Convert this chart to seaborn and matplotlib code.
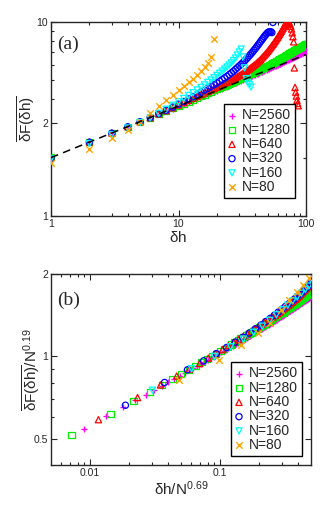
import numpy as np
import pandas as pd
import seaborn as sns
import matplotlib
matplotlib.use("Agg")
import matplotlib.pyplot as plt
from matplotlib.ticker import FixedLocator, FixedFormatter, NullFormatter

# system sizes, styles
sizes = [2560, 1280, 640, 320, 160, 80]
labels = ["N=2560", "N=1280", "N=640", "N=320", "N=160", "N=80"]
colors = ["#ff00ff", "#00ee00", "#ff0000", "#0000ff", "#00ffff", "#ffa500"]
markers = ["+", "s", "^", "o", "v", "x"]

# scaling exponents used in panel (b)
x_exp = 0.69
y_exp = 0.19

# dashed guide line (panel a)
dash_x = [1, 100]
dash_y = [2.0, 6.8]

# dF(dh), dh = 1, 2, 3, ...
dF_2560 = [2.00, 2.41, 2.68, 2.89, 3.06, 3.21, 3.35, 3.47, 3.58, 3.68,
           3.77, 3.86, 3.95, 4.03, 4.10, 4.17, 4.24, 4.31, 4.37, 4.43,
           4.49, 4.54, 4.60, 4.65, 4.70, 4.75, 4.80, 4.85, 4.89, 4.94,
           4.98, 5.03, 5.07, 5.11, 5.15, 5.19, 5.23, 5.27, 5.31, 5.35,
           5.39, 5.42, 5.46, 5.50, 5.53, 5.57, 5.60, 5.64, 5.67, 5.70,
           5.74, 5.77, 5.80, 5.83, 5.87, 5.90, 5.93, 5.96, 5.99, 6.02,
           6.05, 6.08, 6.11, 6.14, 6.17, 6.20, 6.23, 6.26, 6.28, 6.31,
           6.34, 6.37, 6.39, 6.42, 6.45, 6.48, 6.50, 6.53, 6.55, 6.58,
           6.61, 6.63, 6.66, 6.68, 6.71, 6.73, 6.76, 6.78, 6.81, 6.83,
           6.86, 6.88, 6.90, 6.93, 6.95, 6.98, 7.00, 7.02, 7.05, 7.07,
           7.09, 7.12, 7.14, 7.16, 7.18, 7.21, 7.23, 7.25, 7.27, 7.29, 7.31]
dF_1280 = [2.01, 2.40, 2.67, 2.88, 3.06, 3.21, 3.35, 3.47, 3.59, 3.70,
           3.80, 3.89, 3.98, 4.06, 4.14, 4.22, 4.30, 4.38, 4.45, 4.52,
           4.58, 4.64, 4.70, 4.76, 4.82, 4.87, 4.92, 4.97, 5.03, 5.08,
           5.13, 5.18, 5.23, 5.27, 5.32, 5.37, 5.41, 5.46, 5.50, 5.55,
           5.59, 5.63, 5.67, 5.71, 5.75, 5.79, 5.83, 5.87, 5.91, 5.95,
           5.99, 6.03, 6.07, 6.11, 6.15, 6.19, 6.23, 6.27, 6.31, 6.35,
           6.39, 6.43, 6.47, 6.51, 6.55, 6.59, 6.63, 6.67, 6.71, 6.75,
           6.79, 6.82, 6.86, 6.89, 6.93, 6.96, 7.00, 7.03, 7.07, 7.10,
           7.13, 7.16, 7.19, 7.22, 7.25, 7.28, 7.31, 7.34, 7.37, 7.40,
           7.43, 7.46, 7.49, 7.52, 7.55, 7.58, 7.61, 7.64, 7.67, 7.70]
dF_640 = [2.00, 2.41, 2.68, 2.89, 3.06, 3.21, 3.36, 3.49, 3.61, 3.73,
          3.84, 3.94, 4.04, 4.13, 4.22, 4.30, 4.38, 4.46, 4.54, 4.61,
          4.68, 4.75, 4.82, 4.89, 4.96, 5.03, 5.10, 5.17, 5.24, 5.31,
          5.38, 5.45, 5.52, 5.59, 5.66, 5.74, 5.82, 5.90, 5.98, 6.06,
          6.14, 6.23, 6.32, 6.42, 6.52, 6.62, 6.73, 6.84, 6.95, 7.06,
          7.18, 7.30, 7.42, 7.54, 7.67, 7.80, 7.93, 8.07, 8.21, 8.35,
          8.50, 8.65, 8.80, 8.96, 9.12, 9.28, 9.45, 9.62, 9.80, 9.98,
          10.1, 9.95, 10.05, 9.85, 9.70, 9.50, 9.20, 8.80, 8.40, 7.90,
          5.80, 4.60, 4.35, 4.15, 3.95, 3.80, 3.70]
dF_320 = [1.98, 2.40, 2.67, 2.88, 3.06, 3.22, 3.37, 3.51, 3.64, 3.77,
          3.89, 4.01, 4.12, 4.23, 4.34, 4.45, 4.55, 4.65, 4.75, 4.85,
          4.95, 5.05, 5.15, 5.25, 5.36, 5.47, 5.58, 5.70, 5.82, 5.94,
          6.06, 6.18, 6.31, 6.44, 6.57, 6.71, 6.85, 6.99, 7.14, 7.29,
          7.44, 7.60, 7.76, 7.92, 8.08, 8.24, 8.40, 8.55, 8.68, 8.80,
          8.88, 8.92, 8.90, 8.82, 9.95]
dF_160 = [1.97, 2.36, 2.62, 2.84, 3.03, 3.21, 3.38, 3.55, 3.72, 3.88,
          4.03, 4.18, 4.32, 4.46, 4.60, 4.74, 4.88, 5.02, 5.16, 5.30,
          5.44, 5.58, 5.72, 5.86, 6.00, 6.15, 6.32, 6.52, 6.75, 7.00,
          7.25, 6.60, 5.80, 5.10, 4.85, 4.75, 4.62]
dF_80 = [1.88, 2.22, 2.52, 2.79, 3.04, 3.39, 3.69, 3.96, 4.20, 4.45,
         4.67, 4.89, 5.10, 5.33, 5.56, 5.83, 6.14, 6.58, 8.22]

series = [dF_2560, dF_1280, dF_640, dF_320, dF_160, dF_80]

rows = []
for n, lab, vals in zip(sizes, labels, series):
    for i, v in enumerate(vals):
        dh = i + 1
        rows.append({"N": lab, "dh": dh, "dF": v,
                     "xs": dh / n ** x_exp, "ys": v / n ** y_exp})
df = pd.DataFrame(rows)

sns.set_style("ticks")
plt.rcParams["font.family"] = ["Liberation Sans", "DejaVu Sans"]
plt.rcParams["mathtext.fontset"] = "custom"
plt.rcParams["mathtext.rm"] = "Liberation Sans"
plt.rcParams["mathtext.it"] = "Liberation Sans"
plt.rcParams["axes.linewidth"] = 1.0
plt.rcParams["xtick.direction"] = "in"
plt.rcParams["ytick.direction"] = "in"

fig = plt.figure(figsize=(3.32, 5.15), dpi=100)
ax_a = fig.add_axes([51 / 332, 1 - 216 / 515, 255 / 332, 194 / 515])
ax_b = fig.add_axes([51 / 332, 1 - 465 / 515, 260 / 332, 191 / 515])


def draw_points(ax, xcol, ycol):
    for lab, c, m in zip(labels, colors, markers):
        sub = df[df["N"] == lab]
        if m in ("+", "x"):
            sns.scatterplot(data=sub, x=xcol, y=ycol, ax=ax, marker=m, color=c,
                            s=22, linewidth=1.0, label=lab, zorder=3)
        else:
            sns.scatterplot(data=sub, x=xcol, y=ycol, ax=ax, marker=m,
                            facecolors="none", edgecolor=c, s=20, linewidth=0.9,
                            label=lab, zorder=3)


def style_axis(ax):
    ax.tick_params(which="both", top=True, right=True, labelsize=7.5,
                   width=0.8, pad=2)
    ax.tick_params(which="major", length=4.5)
    ax.tick_params(which="minor", length=2.5)
    ax.set_xlabel("")
    ax.set_ylabel("")
    leg = ax.legend(loc="lower right", fontsize=10, frameon=True,
                    fancybox=False, edgecolor="black", framealpha=1,
                    handlelength=0.6, handletextpad=0.4, labelspacing=0.02,
                    borderpad=0.3, borderaxespad=0, markerscale=1.0)
    leg.get_frame().set_linewidth(1.0)
    return leg


# panel (a)
sns.lineplot(x=dash_x, y=dash_y, ax=ax_a, color="black", linewidth=1.1,
             dashes=False, zorder=4)
ax_a.lines[-1].set_dashes([5, 3.5])
draw_points(ax_a, "dh", "dF")
ax_a.set_xscale("log")
ax_a.set_yscale("log")
ax_a.set_xlim(1, 100)
ax_a.set_ylim(1, 10)
ax_a.xaxis.set_major_locator(FixedLocator([1, 10, 100]))
ax_a.xaxis.set_major_formatter(FixedFormatter(["1", "10", "100"]))
ax_a.xaxis.set_minor_locator(FixedLocator([2, 3, 4, 5, 6, 7, 8, 9,
                                           20, 30, 40, 50, 60, 70, 80, 90]))
ax_a.xaxis.set_minor_formatter(NullFormatter())
ax_a.yaxis.set_major_locator(FixedLocator([1, 3, 10]))
ax_a.yaxis.set_major_formatter(FixedFormatter(["1", "2", "10"]))
ax_a.yaxis.set_minor_locator(FixedLocator([2, 4, 5, 6, 7, 8, 9]))
ax_a.yaxis.set_minor_formatter(NullFormatter())
leg = style_axis(ax_a)
leg.set_bbox_to_anchor(((295 - 51) / 255, (216 - 198) / 194), transform=ax_a.transAxes)
ax_a.set_xlabel(r"$\delta$h", fontsize=11, labelpad=1)
ax_a.set_ylabel(r"$\overline{\delta\mathrm{F}(\delta\mathrm{h})}$", fontsize=11)
ax_a.yaxis.set_label_coords((38 - 51) / 255, 0.5)
ax_a.text(0.025, 0.86, "(a)", transform=ax_a.transAxes, fontsize=14,
          family="Liberation Serif")

# panel (b)
draw_points(ax_b, "xs", "ys")
ax_b.set_xscale("log")
ax_b.set_yscale("log")
ax_b.set_xlim(0.005, 0.5)
ax_b.set_ylim(0.4, 2)
ax_b.xaxis.set_major_locator(FixedLocator([0.01, 0.1]))
ax_b.xaxis.set_major_formatter(FixedFormatter(["0.01", "0.1"]))
ax_b.xaxis.set_minor_locator(FixedLocator([0.006, 0.007, 0.008, 0.009,
                                           0.02, 0.03, 0.04, 0.05, 0.06, 0.07, 0.08, 0.09,
                                           0.2, 0.3, 0.4]))
ax_b.xaxis.set_minor_formatter(NullFormatter())
ax_b.yaxis.set_major_locator(FixedLocator([0.5, 1, 2]))
ax_b.yaxis.set_major_formatter(FixedFormatter(["0.5", "1", "2"]))
ax_b.yaxis.set_minor_locator(FixedLocator([0.6, 0.7, 0.8, 0.9]))
ax_b.yaxis.set_minor_formatter(NullFormatter())
leg = style_axis(ax_b)
leg.set_bbox_to_anchor(((302 - 51) / 260, (465 - 456) / 191), transform=ax_b.transAxes)
ax_b.set_xlabel(r"$\delta$h/N$^{0.69}$", fontsize=11, labelpad=1)
ax_b.set_ylabel(r"$\overline{\delta\mathrm{F}(\delta\mathrm{h})}$/N$^{0.19}$",
                fontsize=11)
ax_b.yaxis.set_label_coords((43 - 51) / 260, 0.5)
ax_b.text(0.025, 0.84, "(b)", transform=ax_b.transAxes, fontsize=14,
          family="Liberation Serif")

fig.savefig("out.png", dpi=100)
